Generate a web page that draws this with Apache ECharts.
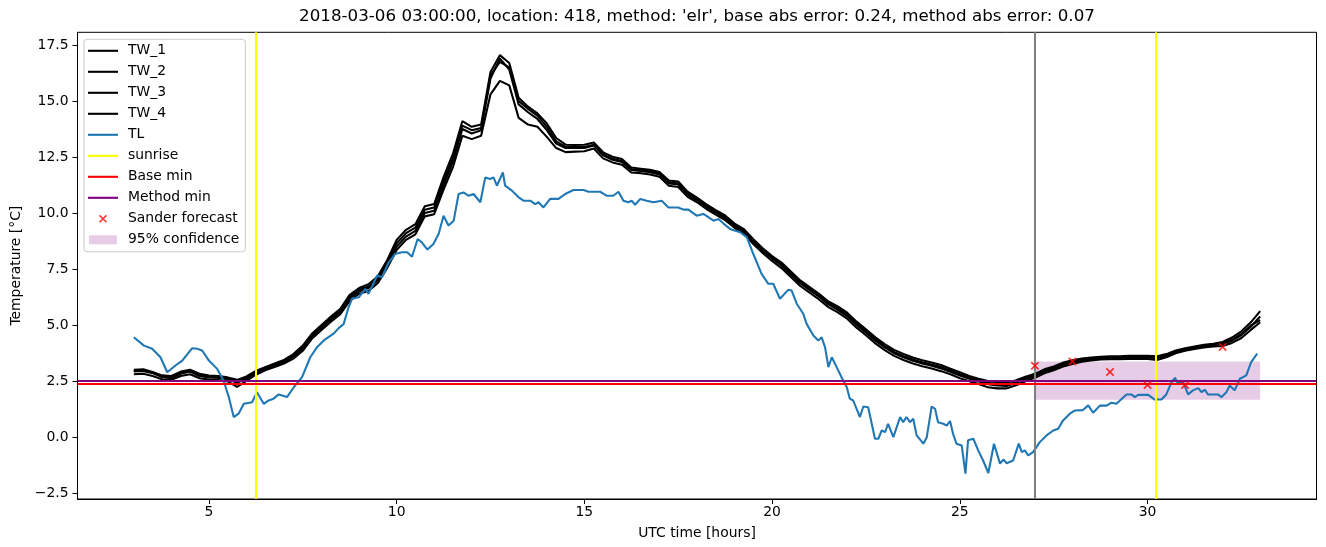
<!DOCTYPE html>
<html><head><meta charset="utf-8">
<script src="https://cdn.jsdelivr.net/npm/echarts@6/dist/echarts.min.js"></script>
<style>html,body{margin:0;padding:0;background:#fff}#c{width:1326px;height:547px}</style>
</head><body><div id="c"></div>
<script>
// ---------- data ----------
const titleText = "2018-03-06 03:00:00, location: 418, method: 'elr', base abs error: 0.24, method abs error: 0.07";
const xTicks = [5, 10, 15, 20, 25, 30];
const yTicks = [-2.5, 0, 2.5, 5, 7.5, 10, 12.5, 15, 17.5];

const twHours = [
 3.00,3.25,3.50,3.75, 4.00,4.25,4.50,4.75, 5.00,5.25,5.50,5.75, 6.00,6.25,6.50,6.75,
 7.00,7.25,7.50,7.75, 8.00,8.25,8.50,8.75, 9.00,9.25,9.50,9.75, 10.00,10.25,10.50,10.75,
 11.00,11.25,11.50,11.75, 12.00,12.25,12.50,12.75, 13.00,13.25,13.50,13.75, 14.00,14.25,14.50,14.75,
 15.00,15.25,15.50,15.75, 16.00,16.25,16.50,16.75, 17.00,17.25,17.50,17.75, 18.00,18.25,18.50,18.75,
 19.00,19.25,19.50,19.75, 20.00,20.25,20.50,20.75, 21.00,21.25,21.50,21.75, 22.00,22.25,22.50,22.75,
 23.00,23.25,23.50,23.75, 24.00,24.25,24.50,24.75, 25.00,25.25,25.50,25.75, 26.00,26.25,26.50,26.75,
 27.00,27.25,27.50,27.75, 28.00,28.25,28.50,28.75, 29.00,29.25,29.50,29.75, 30.00,30.25,30.50,30.75,
 31.00,31.25,31.50,31.75, 32.00,32.25,32.50,32.75, 33.00];

const tw1 = [
 3.00,3.02,2.90,2.75, 2.72,2.92,3.00,2.82, 2.74,2.72,2.66,2.55, 2.70,2.95,3.12,3.28,
 3.44,3.70,4.08,4.62, 5.00,5.38,5.72,6.35, 6.65,6.82,7.18,7.90, 8.80,9.25,9.50,10.30,
 10.40,11.60,12.65,14.10, 13.85,13.95,16.30,17.05, 16.70,15.15,14.75,14.45, 14.00,13.35,13.05,13.04,
 13.05,13.15,12.71,12.51, 12.41,12.03,11.98,11.93, 11.83,11.45,11.41,10.95, 10.69,10.39,10.13,9.89,
 9.53,9.28,8.83,8.43, 8.08,7.79,7.39,6.99, 6.69,6.39,6.05,5.83, 5.55,5.15,4.81,4.45,
 4.15,3.89,3.71,3.55, 3.43,3.33,3.21,3.05, 2.89,2.72,2.60,2.50, 2.44,2.42,2.53,2.69,
 2.82,3.02,3.15,3.32, 3.42,3.50,3.55,3.58, 3.60,3.60,3.62,3.62, 3.62,3.60,3.70,3.86,
 3.96,4.04,4.12,4.16, 4.24,4.44,4.72,5.12, 5.62];
const tw2 = [
 2.92,2.95,2.85,2.68, 2.62,2.82,2.92,2.72, 2.66,2.64,2.58,2.42, 2.60,2.86,3.04,3.18,
 3.34,3.58,3.94,4.50, 4.88,5.25,5.58,6.20, 6.50,6.65,7.00,7.68, 8.50,8.95,9.20,10.00,
 10.10,11.25,12.30,13.75, 13.55,13.70,16.00,16.90, 16.40,14.85,14.50,14.20, 13.70,13.10,12.90,12.90,
 12.90,13.02,12.58,12.38, 12.28,11.92,11.88,11.82, 11.72,11.32,11.27,10.82, 10.57,10.27,10.02,9.77,
 9.42,9.17,8.72,8.32, 7.97,7.66,7.26,6.86, 6.56,6.26,5.92,5.68, 5.40,5.00,4.66,4.30,
 4.00,3.74,3.56,3.40, 3.28,3.18,3.06,2.91, 2.74,2.60,2.48,2.36, 2.30,2.28,2.42,2.58,
 2.72,2.92,3.05,3.22, 3.32,3.42,3.47,3.52, 3.53,3.53,3.55,3.55, 3.55,3.52,3.62,3.79,
 3.90,3.98,4.06,4.10, 4.14,4.30,4.55,4.92, 5.38];
const tw3 = [
 2.80,2.82,2.72,2.58, 2.55,2.72,2.80,2.62, 2.56,2.54,2.48,2.24, 2.50,2.78,2.98,3.12,
 3.28,3.50,3.85,4.40, 4.78,5.15,5.48,6.08, 6.40,6.52,6.88,7.55, 8.35,8.80,9.05,9.85,
 9.95,11.05,12.05,13.45, 13.30,13.45,15.30,15.90, 15.70,14.25,13.95,13.85, 13.40,12.90,12.72,12.74,
 12.76,12.88,12.44,12.26, 12.16,11.81,11.78,11.72, 11.62,11.22,11.16,10.72, 10.48,10.18,9.93,9.68,
 9.34,9.08,8.62,8.22, 7.86,7.54,7.14,6.74, 6.44,6.14,5.80,5.56, 5.28,4.88,4.54,4.18,
 3.88,3.62,3.44,3.28, 3.16,3.06,2.94,2.80, 2.62,2.49,2.36,2.22, 2.17,2.17,2.31,2.49,
 2.64,2.84,2.98,3.15, 3.26,3.36,3.42,3.46, 3.47,3.47,3.48,3.48, 3.48,3.44,3.56,3.74,
 3.85,3.93,4.00,4.04, 4.06,4.20,4.42,4.78, 5.12];
const tw4 = [
 2.95,2.98,2.88,2.70, 2.66,2.86,2.95,2.76, 2.70,2.68,2.62,2.48, 2.65,2.92,3.10,3.24,
 3.40,3.64,4.00,4.56, 4.94,5.32,5.65,6.28, 6.58,6.72,7.08,7.78, 8.65,9.10,9.35,10.15,
 10.25,11.40,12.45,13.90, 13.70,13.80,16.15,16.75, 16.50,15.00,14.65,14.35, 13.85,13.20,12.95,12.95,
 12.95,13.05,12.62,12.42, 12.32,11.95,11.92,11.86, 11.76,11.38,11.32,10.88, 10.62,10.32,10.07,9.82,
 9.47,9.22,8.77,8.37, 8.02,7.72,7.32,6.92, 6.62,6.32,5.97,5.74, 5.47,5.07,4.72,4.37,
 4.07,3.80,3.62,3.46, 3.34,3.24,3.12,2.97, 2.80,2.65,2.54,2.42, 2.35,2.32,2.46,2.63,
 2.76,2.96,3.10,3.26, 3.36,3.46,3.51,3.55, 3.56,3.56,3.58,3.58, 3.58,3.55,3.66,3.82,
 3.92,4.00,4.08,4.12, 4.18,4.34,4.60,4.98, 5.22];

const tlHours = [
 3.00,3.27,3.49,3.71,3.89,4.11,4.29,4.55,4.69,4.82,5.00,5.22,5.39,5.53,5.66,5.79,5.93,6.15,6.28,6.46,
 6.59,6.72,6.86,7.08,7.26,7.48,7.70,7.88,8.06,8.32,8.45,8.59,8.72,8.81,8.99,9.17,9.25,9.48,9.61,9.79,
 9.96,10.14,10.28,10.41,10.56,10.67,10.82,10.98,11.12,11.25,11.38,11.52,11.65,11.78,11.92,12.05,12.23,12.36,12.49,12.58,
 12.67,12.83,12.89,13.07,13.25,13.38,13.56,13.69,13.78,13.91,14.09,14.31,14.49,14.71,14.98,15.11,15.15,15.24,15.42,15.60,
 15.77,15.91,16.04,16.17,16.26,16.35,16.49,16.66,16.84,17.06,17.24,17.50,17.64,17.77,17.99,18.17,18.44,18.57,18.70,18.88,
 19.15,19.33,19.50,19.72,19.90,20.03,20.21,20.43,20.52,20.66,20.83,20.92,21.10,21.23,21.32,21.41,21.50,21.59,21.72,21.85,
 21.99,22.07,22.16,22.34,22.43,22.56,22.74,22.83,22.92,23.01,23.09,23.23,23.41,23.49,23.58,23.67,23.76,23.85,24.03,24.12,
 24.25,24.34,24.42,24.56,24.65,24.74,24.82,24.91,25.05,25.15,25.22,25.36,25.49,25.62,25.76,25.91,26.07,26.16,26.25,26.42,
 26.57,26.65,26.73,26.82,26.95,27.13,27.31,27.49,27.62,27.75,27.93,28.06,28.28,28.42,28.55,28.73,28.91,29.04,29.17,29.44,
 29.57,29.66,29.75,30.02,30.19,30.37,30.50,30.64,30.73,30.81,30.95,31.08,31.21,31.35,31.44,31.52,31.61,31.88,31.97,32.10,
 32.19,32.32,32.46,32.63,32.76,32.92];
const tlTemps = [
 4.45,4.08,3.94,3.56,2.89,3.19,3.41,3.96,3.94,3.86,3.41,3.04,2.52,1.78,0.89,1.04,1.48,1.55,2.00,1.48,
 1.63,1.71,1.90,1.78,2.22,2.67,3.56,4.01,4.31,4.61,4.85,5.05,5.79,6.17,6.24,6.61,6.39,7.21,7.13,7.80,
 8.17,8.25,8.25,8.05,8.84,8.69,8.37,8.62,9.07,9.88,9.44,9.66,10.85,10.92,10.77,10.85,10.48,11.59,11.52,11.59,
 11.22,11.81,11.22,11.00,10.70,10.55,10.55,10.40,10.48,10.25,10.63,10.63,10.85,11.03,11.03,10.95,11.03,10.95,10.95,10.77,
 10.77,10.95,10.55,10.48,10.55,10.37,10.63,10.55,10.48,10.55,10.25,10.25,10.15,10.15,9.88,9.96,9.66,9.73,9.54,9.29,
 9.14,8.91,8.17,7.28,6.84,6.84,6.17,6.57,6.54,5.94,5.50,5.05,4.53,4.31,4.45,4.01,3.12,3.56,3.12,2.67,
 2.22,1.71,1.63,0.89,1.36,1.33,-0.08,-0.08,0.29,0.22,0.59,-0.01,0.89,0.66,0.89,0.66,0.81,0.07,-0.30,-0.01,
 1.36,1.26,0.66,0.59,0.51,0.71,0.14,-0.30,-0.38,-1.64,-0.15,-0.08,-0.60,-1.05,-1.61,-0.30,-1.19,-1.01,-1.17,-1.05,
 -0.30,-0.68,-0.60,-0.82,-0.68,-0.23,0.07,0.29,0.37,0.74,1.04,1.18,1.20,1.41,1.08,1.40,1.40,1.53,1.48,1.90,
 1.90,1.78,1.88,1.88,1.67,1.67,1.90,2.45,2.64,2.40,2.45,1.90,2.08,2.18,2.00,2.11,1.90,1.90,1.78,2.00,
 2.30,2.08,2.60,2.75,3.34,3.72];

const sunriseHours = [6.24, 30.22];
const forecastStartHour = 27.0;
const baseMin = 2.36;
const methodMin = 2.53;
const forecastHours = [27, 28, 29, 30, 31, 32];
const forecastTemps = [3.18, 3.37, 2.90, 2.32, 2.32, 4.02];
const confStart = 27.0, confEnd = 33.0;
const confLow = 1.66, confHigh = 3.37;

// ---------- chart ----------
const FONT = 'DejaVu Sans';
const LW = 2.08;
const zip = (xs, ys) => xs.map((x, i) => [x, ys[i]]);
const LINE_ICON = 'path://M0,0H30V2.1H0Z';
const X_PATH = 'path://M0,1.1L1.1,0L8,6.9L6.9,8ZM6.9,0L8,1.1L1.1,8L0,6.9Z';
const X_ICON = 'path://M-3,-3M11,11M0,1.1L1.1,0L8,6.9L6.9,8ZM6.9,0L8,1.1L1.1,8L0,6.9Z';
const PATCH_ICON = 'path://M-1,0M29,9M0,0H28V9H0Z';

function lineSeries(name, xs, ys, color) {
  return {name, type: 'line', data: zip(xs, ys), showSymbol: false, symbol: 'none',
    lineStyle: {color, width: LW}, itemStyle: {color}, z: 3, animation: false, silent: true};
}
function markLineSeries(name, key, values, color, z) {
  return {name, type: 'line', data: [], itemStyle: {color}, lineStyle: {color}, z, silent: true,
    markLine: {silent: true, symbol: ['none', 'none'], label: {show: false}, animation: false,
      lineStyle: {color, width: LW, type: 'solid'}, emphasis: {disabled: true},
      data: values.map(v => ({[key]: v}))}};
}
const confColor = 'rgba(128,0,128,0.2)';

const option = {
  animation: false,
  backgroundColor: '#ffffff',
  textStyle: {fontFamily: FONT},
  grid: {left: 77.5, right: 9.5, top: 32.3, bottom: 48, show: true, borderColor: '#000', borderWidth: 1,
    containLabel: false, outerBoundsMode: 'none'},
  graphic: [{type: 'text', x: 697, y: 17, silent: true,
    style: {text: titleText, fontFamily: FONT, fontSize: 16.7, fill: '#000', align: 'center', verticalAlign: 'middle'}}],
  legend: {
    orient: 'vertical', left: 84, top: 39.3, align: 'left',
    itemWidth: 30, itemHeight: 14, itemGap: 7,
    padding: [4.5, 6, 5, 4],
    backgroundColor: 'rgba(255,255,255,0.8)', borderColor: '#cccccc', borderWidth: 1, borderRadius: 3,
    textStyle: {fontFamily: FONT, fontSize: 13.9, color: '#000', lineHeight: 14, padding: [0, 0, 0, 5]},
    itemStyle: {borderWidth: 0},
    selectedMode: false, z: 20,
    data: [
      {name: 'TW_1', icon: LINE_ICON}, {name: 'TW_2', icon: LINE_ICON},
      {name: 'TW_3', icon: LINE_ICON}, {name: 'TW_4', icon: LINE_ICON},
      {name: 'TL', icon: LINE_ICON}, {name: 'sunrise', icon: LINE_ICON},
      {name: 'Base min', icon: LINE_ICON}, {name: 'Method min', icon: LINE_ICON},
      {name: 'Sander forecast', icon: X_ICON}, {name: '95% confidence', icon: PATCH_ICON}
    ]
  },
  xAxis: {
    type: 'value', min: 1.5, max: 34.5,
    name: 'UTC time [hours]', nameLocation: 'middle', nameGap: 27,
    nameTextStyle: {fontFamily: FONT, fontSize: 13.9, color: '#000'},
    splitLine: {show: false},
    axisLine: {show: true, onZero: false, lineStyle: {color: '#000', width: 1}},
    axisTick: {show: true, customValues: xTicks, length: 5, lineStyle: {color: '#000', width: 1}},
    axisLabel: {customValues: xTicks, fontFamily: FONT, fontSize: 13.9, color: '#000', margin: 6,
      formatter: v => String(v)}
  },
  yAxis: {
    type: 'value', min: -2.77, max: 18.07,
    name: 'Temperature [°C]', nameLocation: 'middle', nameGap: 53, nameRotate: 90,
    nameTextStyle: {fontFamily: FONT, fontSize: 13.9, color: '#000'},
    splitLine: {show: false},
    axisLine: {show: true, onZero: false, lineStyle: {color: '#000', width: 1}},
    axisTick: {show: true, customValues: yTicks, length: 5, lineStyle: {color: '#000', width: 1}},
    axisLabel: {customValues: yTicks, fontFamily: FONT, fontSize: 13.9, color: '#000', margin: 9,
      formatter: v => (v < 0 ? '\u2212' : '') + Math.abs(v).toFixed(1)}
  },
  series: [
    {name: '95% confidence', type: 'line', data: [], itemStyle: {color: confColor}, lineStyle: {color: confColor}, z: 1, silent: true,
      markArea: {silent: true, itemStyle: {color: confColor}, label: {show: false}, emphasis: {disabled: true},
        data: [[{xAxis: confStart, yAxis: confLow}, {xAxis: confEnd, yAxis: confHigh}]]}},
    lineSeries('TW_1', twHours, tw1, '#000000'),
    lineSeries('TW_2', twHours, tw2, '#000000'),
    lineSeries('TW_3', twHours, tw3, '#000000'),
    lineSeries('TW_4', twHours, tw4, '#000000'),
    lineSeries('TL', tlHours, tlTemps, '#1f77b4'),
    markLineSeries('sunrise', 'xAxis', sunriseHours, '#ffff00', 4),
    markLineSeries('forecast start', 'xAxis', [forecastStartHour], '#808080', 4),
    markLineSeries('Base min', 'yAxis', [baseMin], '#ff0000', 4),
    markLineSeries('Method min', 'yAxis', [methodMin], '#800080', 4),
    {name: 'Sander forecast', type: 'scatter', data: zip(forecastHours, forecastTemps),
      symbol: X_PATH, symbolSize: 8.5, itemStyle: {color: '#ff0000'}, z: 6, silent: true}
  ]
};
const chart = echarts.init(document.getElementById('c'), null, {renderer: 'canvas'});
chart.setOption(option);
</script>
</body></html>
